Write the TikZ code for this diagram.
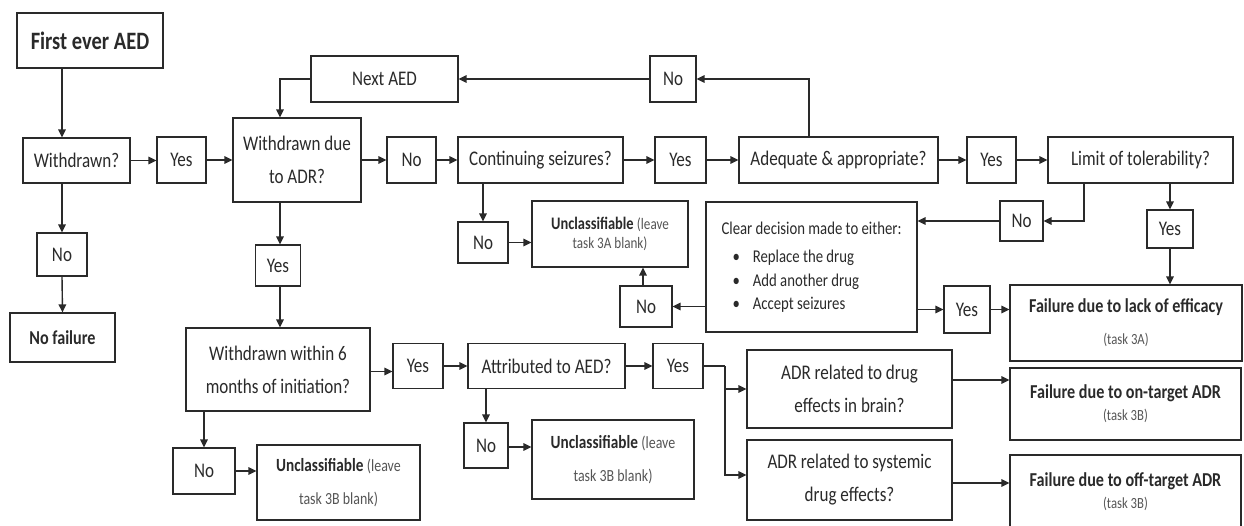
\documentclass[tikz,border=0pt]{standalone}
\usepackage{fontspec}
\setmainfont{Carlito}[FakeStretch=0.82]
\usetikzlibrary{arrows.meta}
\definecolor{ink}{HTML}{2A2A2A}
\definecolor{lite}{HTML}{555555}
\begin{document}
\begin{tikzpicture}[x=1pt,y=-1pt,
  bx/.style={draw=ink, line width=1.2pt, inner sep=0pt, text=ink, align=center, font=\fontsize{20.8}{24}\selectfont},
  arr/.style={draw=ink, line width=1.4pt, -{Triangle[length=8pt,width=7.5pt]}},
  ln/.style={draw=ink, line width=1.4pt},
  two/.style={font=\fontsize{20.8}{33}\selectfont},
]
\useasboundingbox (0,0) rectangle (1244,525);
\fill[white] (0,0) rectangle (1244,525);

% left column
\node[bx, minimum width=146pt, minimum height=55pt, font=\fontsize{25}{28}\selectfont\bfseries] (first) at (90,40.5) {First ever AED};
\node[bx, minimum width=107pt, minimum height=45pt] (wd) at (76.5,160.5) {Withdrawn?};
\node[bx, minimum width=50pt, minimum height=43pt] (no6) at (62,254.5) {No};
\node[bx, minimum width=105pt, minimum height=49pt, font=\fontsize{19.7}{23}\selectfont\bfseries] (nofail) at (62.5,337.5) {No failure};
\node[bx, minimum width=49pt, minimum height=46pt] (y1) at (181.5,160) {Yes};
\node[bx, minimum width=128pt, minimum height=84pt, two] (wdadr) at (297,160) {Withdrawn due\\to ADR?};
\node[bx, minimum width=147pt, minimum height=46pt] (next) at (384.5,79) {Next AED};
\node[bx, minimum width=46pt, minimum height=46pt] (no1) at (673,79) {No};

% top row
\node[bx, minimum width=49pt, minimum height=46pt] (no2) at (411.5,160) {No};
\node[bx, minimum width=165pt, minimum height=46pt] (cont) at (540.5,160) {Continuing seizures?};
\node[bx, minimum width=51pt, minimum height=46pt] (y2) at (680.5,160) {Yes};
\node[bx, minimum width=199pt, minimum height=46pt] (adeq) at (838.5,160) {Adequate \& appropriate?};
\node[bx, minimum width=49pt, minimum height=46pt] (y3) at (991.5,160) {Yes};
\node[bx, minimum width=185pt, minimum height=46pt] (limit) at (1140.5,160) {Limit of tolerability?};

% middle
\node[bx, minimum width=43pt, minimum height=40pt] (no3) at (1021.5,221) {No};
\node[bx, minimum width=46pt, minimum height=38pt] (y4) at (1170,229) {Yes};
\node[bx, minimum width=211pt, minimum height=130pt, align=left, font=\fontsize{18}{23.5}\selectfont] (clear) at (811.5,267)
  {Clear decision made to either:\\[5pt]
   \hspace*{11pt}\textbullet\hspace{13pt}Replace the drug\\
   \hspace*{11pt}\textbullet\hspace{13pt}Add another drug\\
   \hspace*{11pt}\textbullet\hspace{13pt}Accept seizures};
\node[bx, minimum width=50pt, minimum height=41pt] (no4) at (483,242.5) {No};
\node[bx, minimum width=156pt, minimum height=66pt, font=\fontsize{17.6}{19}\selectfont] (unc3a) at (610,234)
  {\textbf{Unclassifiable} {\fontsize{16}{19}\selectfont\color{lite}(leave}\\{\fontsize{16}{19}\selectfont\color{lite}task 3A blank)}};
\node[bx, minimum width=52pt, minimum height=41pt] (no5) at (646,306.5) {No};
\node[bx, minimum width=46pt, minimum height=47pt] (y5) at (967,309.5) {Yes};
\node[bx, minimum width=232pt, minimum height=76pt, font=\fontsize{19.7}{23}\selectfont\bfseries] (effic) at (1126,323)
  {Failure due to lack of efficacy\\[9pt]{\fontsize{15.5}{16}\selectfont\mdseries\color{lite}(task 3A)}};

% lower part
\node[bx, minimum width=45pt, minimum height=41pt] (y6) at (278,265.5) {Yes};
\node[bx, minimum width=184pt, minimum height=83pt, two] (within6) at (278,369.5) {Withdrawn within 6\\months of initiation?};
\node[bx, minimum width=62pt, minimum height=46pt] (no8) at (204,471) {No};
\node[bx, minimum width=163pt, minimum height=75pt, font=\fontsize{18.6}{33}\selectfont] (unc3b1) at (338.5,482.5)
  {\textbf{Unclassifiable} {\fontsize{17}{33}\selectfont\color{lite}(leave}\\{\fontsize{17}{33}\selectfont\color{lite}task 3B blank)}};
\node[bx, minimum width=50pt, minimum height=45pt] (y7) at (418,366) {Yes};
\node[bx, minimum width=157pt, minimum height=45pt] (attr) at (546.5,366) {Attributed to AED?};
\node[bx, minimum width=50pt, minimum height=45pt] (y8) at (678,366) {Yes};
\node[bx, minimum width=44pt, minimum height=45pt] (no7) at (486,445.5) {No};
\node[bx, minimum width=162pt, minimum height=79pt, font=\fontsize{18.6}{33}\selectfont] (unc3b2) at (613,459.5)
  {\textbf{Unclassifiable} {\fontsize{17}{33}\selectfont\color{lite}(leave}\\{\fontsize{17}{33}\selectfont\color{lite}task 3B blank)}};
\node[bx, minimum width=205pt, minimum height=78pt, two] (brain) at (849.5,389) {ADR related to drug\\effects in brain?};
\node[bx, minimum width=205pt, minimum height=80pt, two] (syst) at (849.5,480) {ADR related to systemic\\drug effects?};
\node[bx, minimum width=231pt, minimum height=72pt, font=\fontsize{19.7}{22}\selectfont\bfseries] (ontgt) at (1125.5,404)
  {Failure due to on-target ADR\\{\fontsize{15.5}{16}\selectfont\mdseries\color{lite}(task 3B)}};
\node[bx, minimum width=231pt, minimum height=74pt, font=\fontsize{19.7}{22}\selectfont\bfseries] (offtgt) at (1125.5,492)
  {Failure due to off-target ADR\\{\fontsize{15.5}{16}\selectfont\mdseries\color{lite}(task 3B)}};

\coordinate (split) at (725,366);

% connectors
\draw[arr] (first.south -| no6.north) -- (no6.north |- wd.north);
\draw[arr] (wd.east) -- (y1.west |- wd.east);
\draw[arr] (y1.east) -- (wdadr.west |- y1.east);
\draw[arr] (wd.south -| no6.north) -- (no6.north);
\draw[arr] (no6.south) -- (nofail.north);
\draw[arr] (wdadr.east) -- (no2.west);
\draw[arr] (no2.east) -- (cont.west);
\draw[arr] (cont.east) -- (y2.west);
\draw[arr] (y2.east) -- (adeq.west);
\draw[arr] (adeq.east) -- (y3.west);
\draw[arr] (y3.east) -- (limit.west);
\draw[arr] ([xshift=-29.5pt]adeq.north) |- (no1.east);
\draw[arr] (no1.west) -- (next.east);
\draw[arr] (next.west) -| ([xshift=-17pt]wdadr.north);
\draw[arr] ([xshift=-56.5pt]limit.south) |- (no3.east);
\draw[arr] (no3.west) -- (no3.west -| clear.east);
\draw[arr] (limit.south -| y4.north) -- (y4.north);
\draw[arr] (y4.south) -- (y4.south |- effic.north);
\draw[arr] (y5.west -| clear.east) -- (y5.west);
\draw[arr] (y5.east) -- (y5.east -| effic.west);
\draw[arr] (cont.south -| no4.north) -- (no4.north);
\draw[arr] (no4.east) -- (no4.east -| unc3a.west);
\draw[arr] (no5.east -| clear.west) -- (no5.east);
\draw[arr] ([xshift=-3pt]no5.north) -- ([xshift=-3pt]no5.north |- unc3a.south);
\draw[arr] ([xshift=2pt]wdadr.south -| y6.north) -- ([xshift=2pt]y6.north);
\draw[arr] ([xshift=2pt]y6.south) -- ([xshift=2pt]y6.south |- within6.north);
\draw[arr] ([yshift=-2pt]within6.east) -- ([yshift=-2pt]within6.east -| y7.west);
\draw[arr] (y7.east) -- (attr.west);
\draw[arr] (attr.east) -- (y8.west);
\draw[ln] (y8.east) -- (split);
\draw[arr] (split) |- (brain.west);
\draw[arr] (split) |- ([yshift=5pt]syst.west);
\draw[arr] (attr.south -| no7.north) -- (no7.north);
\draw[arr] ([yshift=-1.5pt]no7.east) -- ([yshift=-1.5pt]no7.east -| unc3b2.west);
\draw[arr] (within6.south -| no8.north) -- (no8.north);
\draw[arr] (no8.east) -- (no8.east -| unc3b1.west);
\draw[arr] ([yshift=9pt]brain.east) -- ([yshift=9pt]brain.east -| ontgt.west);
\draw[arr] ([yshift=-3pt]syst.east) -- ([yshift=-3pt]syst.east -| offtgt.west);
\end{tikzpicture}
\end{document}
